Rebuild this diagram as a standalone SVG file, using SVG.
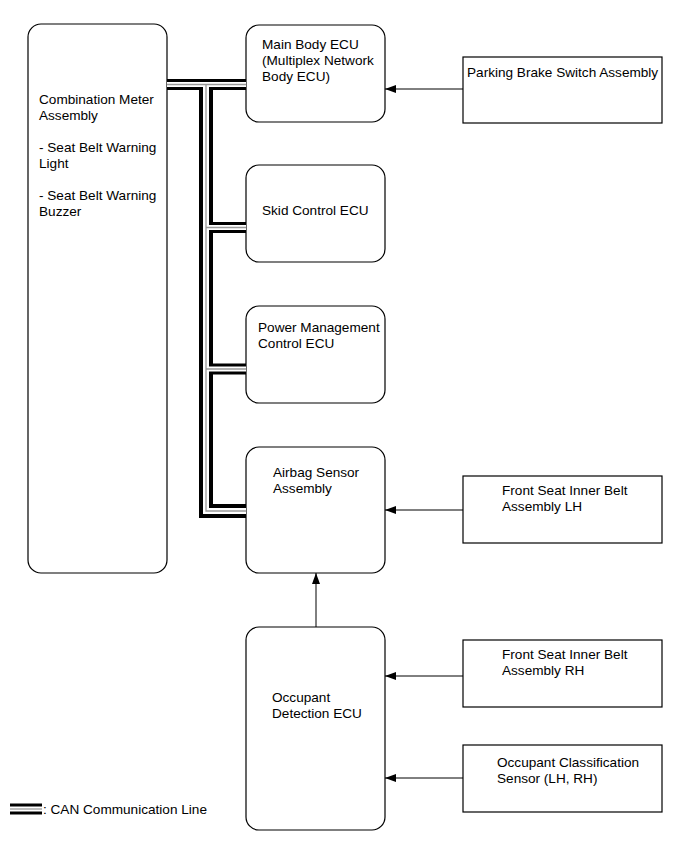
<svg xmlns="http://www.w3.org/2000/svg" width="691" height="855" viewBox="0 0 691 855">
<style>
.box{fill:#fff;stroke:#000;stroke-width:1.2}
text{font-family:"Liberation Sans",Arial,sans-serif;font-size:13.6px;fill:#000}
.cb{fill:none;stroke:#000;stroke-linejoin:miter}
.cw{fill:none;stroke:#fff;stroke-linejoin:miter}
.cg{fill:none;stroke:#999;stroke-linejoin:miter}
.ar{fill:none;stroke:#000;stroke-width:1}
</style>
<defs>
<marker id="ah" viewBox="0 0 11 8" refX="11" refY="4" markerWidth="11" markerHeight="8" markerUnits="userSpaceOnUse" orient="auto">
<path d="M0,0 L11,4 L0,8 Z" fill="#000"/>
</marker>
</defs>
<rect width="691" height="855" fill="#fff"/>

<g id="combination-meter">
<rect class="box" x="28" y="24" width="139" height="549" rx="13"/>
<text x="39" y="104">Combination Meter</text>
<text x="39" y="120">Assembly</text>
<text x="39" y="152">- Seat Belt Warning</text>
<text x="39" y="168">Light</text>
<text x="39" y="200">- Seat Belt Warning</text>
<text x="39" y="216">Buzzer</text>
</g>

<g id="main-body-ecu">
<rect class="box" x="246" y="25" width="139" height="97" rx="13"/>
<text x="262" y="49">Main Body ECU</text>
<text x="262" y="65">(Multiplex Network</text>
<text x="262" y="81">Body ECU)</text>
</g>

<g id="skid-control-ecu">
<rect class="box" x="246" y="165" width="139" height="97" rx="13"/>
<text x="262" y="215">Skid Control ECU</text>
</g>

<g id="power-management-ecu">
<rect class="box" x="246" y="306" width="139" height="97" rx="13"/>
<text x="258" y="332">Power Management</text>
<text x="258" y="348">Control ECU</text>
</g>

<g id="airbag-sensor">
<rect class="box" x="246" y="447" width="139" height="126" rx="13"/>
<text x="273" y="477">Airbag Sensor</text>
<text x="273" y="493">Assembly</text>
</g>

<g id="occupant-detection-ecu">
<rect class="box" x="246" y="627" width="139" height="203" rx="13"/>
<text x="272" y="702">Occupant</text>
<text x="272" y="718">Detection ECU</text>
</g>

<g id="parking-brake-switch">
<rect class="box" x="463" y="57" width="199" height="66"/>
<text x="467" y="77">Parking Brake Switch Assembly</text>
</g>

<g id="front-seat-belt-lh">
<rect class="box" x="463" y="476" width="199" height="67"/>
<text x="502" y="495">Front Seat Inner Belt</text>
<text x="502" y="511">Assembly LH</text>
</g>

<g id="front-seat-belt-rh">
<rect class="box" x="463" y="640" width="199" height="67"/>
<text x="502" y="659">Front Seat Inner Belt</text>
<text x="502" y="675">Assembly RH</text>
</g>

<g id="occupant-classification-sensor">
<rect class="box" x="463" y="745" width="199" height="67"/>
<text x="497" y="767">Occupant Classification</text>
<text x="497" y="783">Sensor (LH, RH)</text>
</g>

<g id="connectors">
<g id="can-bus">
<path class="cb" stroke-width="11" d="M167,84.5 H246 M206,227.5 H246 M206,369 H246"/>
<path class="cb" stroke-width="14" d="M206,84.5 V511 H246"/>
<path class="cw" stroke-width="5" d="M167,84.5 H246 M206,227.5 H246 M206,369 H246"/>
<path class="cw" stroke-width="6" d="M206,84.5 V511 H246"/>
<path class="cg" stroke-width="1.3" d="M167,84.5 H246 M206,227.5 H246 M206,369 H246 M206,84.5 V511 H246"/>
</g>
<path class="ar" d="M463,89 H385" marker-end="url(#ah)"/>
<path class="ar" d="M463,510 H385" marker-end="url(#ah)"/>
<path class="ar" d="M463,676 H385" marker-end="url(#ah)"/>
<path class="ar" d="M463,778 H385" marker-end="url(#ah)"/>
<path class="ar" d="M316,627 V573" marker-end="url(#ah)"/>
</g>

<g id="legend">
<path class="cb" stroke-width="11" d="M10,809 H42"/>
<path class="cw" stroke-width="5" d="M10,809 H42"/>
<path class="cg" stroke-width="1.3" d="M10,809 H42"/>
<text x="43" y="814">: CAN Communication Line</text>
</g>
</svg>
